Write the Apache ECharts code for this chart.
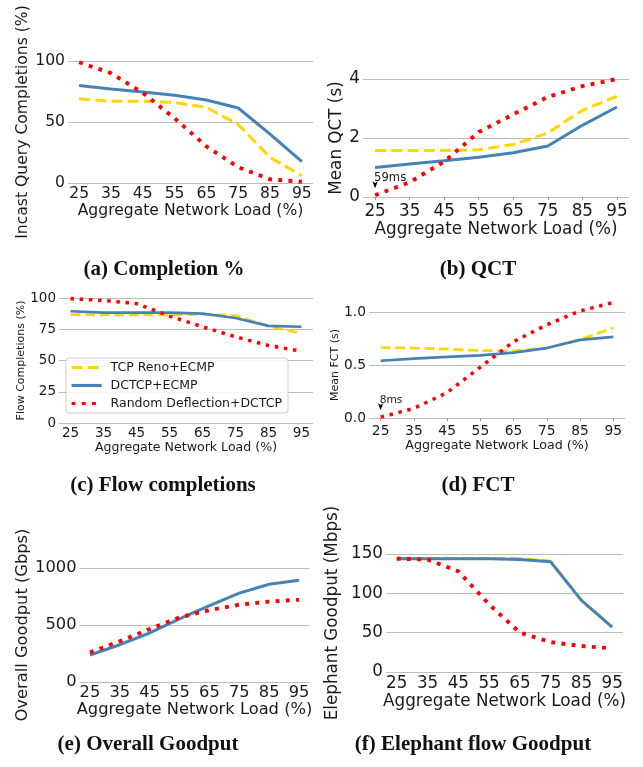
<!DOCTYPE html>
<html>
<head>
<meta charset="utf-8">
<script src="https://cdn.jsdelivr.net/npm/echarts@6/dist/echarts.min.js"></script>
<style>
  html, body { margin: 0; padding: 0; background: #fff; }
  #chart { width: 643px; height: 767px; }
</style>
</head>
<body>
<div id="chart"></div>
<script>
// Aggregate network load on every x axis
const loads = [25, 35, 45, 55, 65, 75, 85, 95];

// Scheme names
const nameReno = 'TCP Reno+ECMP';
const nameDctcp = 'DCTCP+ECMP';
const nameDeflect = 'Random Deflection+DCTCP';

// (a) Incast query completions (%)
const completionReno = [69, 67, 67, 66, 62, 48, 21, 6];
const completionDctcp = [80, 77, 74.6, 72, 68, 61.5, 40, 17.5];
const completionDeflect = [99, 90, 74, 53, 30, 13, 3, 1];

// (b) Mean query completion time (s)
const qctReno = [1.58, 1.58, 1.58, 1.6, 1.78, 2.17, 2.94, 3.41];
const qctDctcp = [1.0, 1.12, 1.23, 1.35, 1.5, 1.73, 2.43, 3.05];
const qctDeflect = [0.059, 0.5, 1.2, 2.2, 2.8, 3.39, 3.76, 4.0];

// (c) Flow completions (%)
const flowReno = [86.7, 86.5, 86.5, 86.5, 87, 86, 77.5, 71.6];
const flowDctcp = [89.4, 88.3, 88.3, 88.3, 87.5, 84, 77.7, 77];
const flowDeflect = [99.5, 98, 95.5, 85.5, 77, 69, 62, 57.5];

// (d) Mean flow completion time (s)
const fctReno = [0.665, 0.66, 0.65, 0.636, 0.633, 0.66, 0.74, 0.85];
const fctDctcp = [0.54, 0.56, 0.576, 0.59, 0.617, 0.66, 0.737, 0.766];
const fctDeflect = [0.008, 0.09, 0.24, 0.48, 0.72, 0.88, 1.01, 1.09];

// (e) Overall goodput (Gbps)
const goodputDctcp = [237, 327, 430, 553, 670, 780, 857, 892];
const goodputDeflect = [260, 357, 465, 567, 630, 678, 705, 722];

// (f) Elephant flow goodput (Mbps)
const elephantReno = [144.5, 144.5, 144.5, 144.5, 144, 141, 91, 57];
const elephantDctcp = [144, 144, 144, 144, 143, 140, 91, 57];
const elephantDeflect = [144, 143, 128, 86, 50, 38, 33, 30];

// Y tick values per panel
const ticksA = [0, 50, 100];
const ticksB = [0, 2, 4];
const ticksC = [0, 25, 50, 75, 100];
const ticksD = [0, 0.5, 1.0];
const ticksE = [0, 500, 1000];
const ticksF = [0, 50, 100, 150];

const FONT = 'DejaVu Sans';
const TXT = '#1a1a1a';
const GRIDC = '#bdbdbd';
const YELLOW = '#ffd700';
const BLUE = '#4682b4';
const RED = '#ff0000';

const pairs = arr => loads.map((x, i) => [x, arr[i]]);

// Panel layout: plot boxes in pixels plus text sizes
const panels = [
  { box: [68, 61, 313, 183], ticks: ticksA, fs: 15.6, tfs: 15.6, yName: 'Incast Query Completions (%)', yGap: 36, xGap: 15, xTick: false },
  { box: [363, 79, 629, 197], ticks: ticksB, fs: 16.8, tfs: 16.8, yName: 'Mean QCT (s)', yGap: 17, xGap: 22, xTick: true },
  { box: [59, 298, 313, 423], ticks: ticksC, fs: 12.6, tfs: 13.5, yName: 'Flow Completions (%)', yGap: 32, xGap: 16, xTick: false, nfs: 11 },
  { box: [369, 312, 625, 418], ticks: ticksD, fs: 12.7, tfs: 13.8, yName: 'Mean FCT (s)', yGap: 28, xGap: 19, xTick: true, nfs: 11, dec: 1 },
  { box: [79.5, 568, 309.5, 682], ticks: ticksE, fs: 16.3, tfs: 16.3, yName: 'Overall Goodput (Gbps)', yGap: 46, xGap: 17, xTick: false },
  { box: [386, 554, 623, 672], ticks: ticksF, fs: 16.8, tfs: 16.8, yName: 'Elephant Goodput (Mbps)', yGap: 45, xGap: 18, xTick: false }
];

const W = 643, H = 767;
const grids = [], xAxes = [], yAxes = [];
panels.forEach(p => {
  const [l, t, r, b] = p.box;
  grids.push({ left: l, top: t, width: r - l, height: b - t, containLabel: false });
  xAxes.push({
    type: 'value', gridIndex: grids.length - 1, min: 21.5, max: 98.5,
    name: 'Aggregate Network Load (%)', nameLocation: 'middle', nameGap: p.xGap,
    nameTextStyle: { fontFamily: FONT, fontSize: p.fs, color: TXT, verticalAlign: 'top' },
    axisLine: { show: false },
    axisTick: { show: p.xTick, customValues: loads, length: 3, lineStyle: { color: '#9a9a9a' } },
    axisLabel: { customValues: loads, fontFamily: FONT, fontSize: p.tfs, color: TXT, margin: p.xTick ? 6 : 3 },
    splitLine: { show: false }
  });
  const step = p.ticks[1] - p.ticks[0];
  yAxes.push({
    type: 'value', gridIndex: grids.length - 1, min: 0, max: p.ticks[p.ticks.length - 1], interval: step,
    name: p.yName, nameLocation: 'middle', nameGap: p.yGap,
    nameTextStyle: { fontFamily: FONT, fontSize: p.nfs || p.fs, color: TXT },
    axisLine: { show: false }, axisTick: { show: false },
    axisLabel: { fontFamily: FONT, fontSize: p.tfs, color: TXT, margin: 3,
      formatter: v => p.dec ? v.toFixed(p.dec) : String(v) },
    splitLine: { show: true, lineStyle: { color: GRIDC, width: 1 } }
  });
});

function line(name, data, idx, kind, lw, extra) {
  const style = { width: lw };
  if (kind === 'dash') { style.color = YELLOW; style.type = [lw * 3.7, lw * 1.7]; }
  if (kind === 'solid') { style.color = BLUE; }
  if (kind === 'dot') { style.color = RED; style.width = lw * 1.3; style.type = [lw * 1.3, lw * 2.1]; }
  return Object.assign({
    type: 'line', name, data: pairs(data), xAxisIndex: idx, yAxisIndex: idx,
    symbol: 'none', clip: false, itemStyle: { color: style.color }, lineStyle: style,
    z: kind === 'dot' ? 4 : kind === 'solid' ? 3 : 2
  }, extra || {});
}

// Small arrow with the millisecond value at the first deflection point
function msMark(value, fs) {
  return {
    symbol: 'arrow', symbolRotate: 180, symbolSize: [4, 7], symbolOffset: [0, -7],
    itemStyle: { color: '#000' },
    label: { show: true, position: 'top', align: 'left', distance: 0, offset: [-1, 3],
      fontFamily: FONT, fontSize: fs, color: TXT,
      formatter: () => Math.round(value * 1000) + 'ms' },
    data: [{ coord: [loads[0], value] }]
  };
}

const series = [
  line(nameReno, completionReno, 0, 'dash', 3),
  line(nameDctcp, completionDctcp, 0, 'solid', 3),
  line(nameDeflect, completionDeflect, 0, 'dot', 3),

  line(nameReno, qctReno, 1, 'dash', 3),
  line(nameDctcp, qctDctcp, 1, 'solid', 3),
  line(nameDeflect, qctDeflect, 1, 'dot', 3, { markPoint: msMark(qctDeflect[0], 11.6) }),

  line(nameReno, flowReno, 2, 'dash', 2.7),
  line(nameDctcp, flowDctcp, 2, 'solid', 2.7),
  line(nameDeflect, flowDeflect, 2, 'dot', 2.7),

  line(nameReno, fctReno, 3, 'dash', 2.7),
  line(nameDctcp, fctDctcp, 3, 'solid', 2.7),
  line(nameDeflect, fctDeflect, 3, 'dot', 2.7, { markPoint: msMark(fctDeflect[0], 10.6) }),

  line(nameDctcp, goodputDctcp, 4, 'solid', 3),
  line(nameDeflect, goodputDeflect, 4, 'dot', 3),

  line(nameReno, elephantReno, 5, 'dash', 3),
  line(nameDctcp, elephantDctcp, 5, 'solid', 3),
  line(nameDeflect, elephantDeflect, 5, 'dot', 3)
];

// Sub-figure captions
const captions = [
  { text: '(a) Completion %', x: 164, y: 270 },
  { text: '(b) QCT', x: 478, y: 270 },
  { text: '(c) Flow completions', x: 163, y: 486 },
  { text: '(d) FCT', x: 478, y: 486 },
  { text: '(e) Overall Goodput', x: 148, y: 745 },
  { text: '(f) Elephant flow Goodput', x: 473, y: 745 }
];

const chart = echarts.init(document.getElementById('chart'), null, { renderer: 'canvas', width: W, height: H });
chart.setOption({
  animation: false,
  backgroundColor: '#fff',
  grid: grids,
  xAxis: xAxes,
  yAxis: yAxes,
  legend: {
    data: [nameReno, nameDctcp, nameDeflect],
    orient: 'vertical', left: 66, top: 358,
    itemWidth: 30, itemHeight: 14, itemGap: 5,
    padding: [3, 6, 3, 4],
    itemStyle: { opacity: 0, borderWidth: 0 },
    lineStyle: { width: 3.2 },
    backgroundColor: 'rgba(255,255,255,0.85)', borderColor: '#cfcfcf', borderWidth: 1, borderRadius: 3,
    textStyle: { fontFamily: FONT, fontSize: 12.5, color: TXT, padding: [0, 0, 0, 4] },
    selectedMode: false
  },
  graphic: captions.map(c => ({
    type: 'text', x: c.x, y: c.y,
    style: { text: c.text, fontFamily: 'Liberation Serif', fontWeight: 'bold', fontSize: 21,
      fill: '#111', align: 'center', verticalAlign: 'middle' }
  })),
  series
});
</script>
</body>
</html>
